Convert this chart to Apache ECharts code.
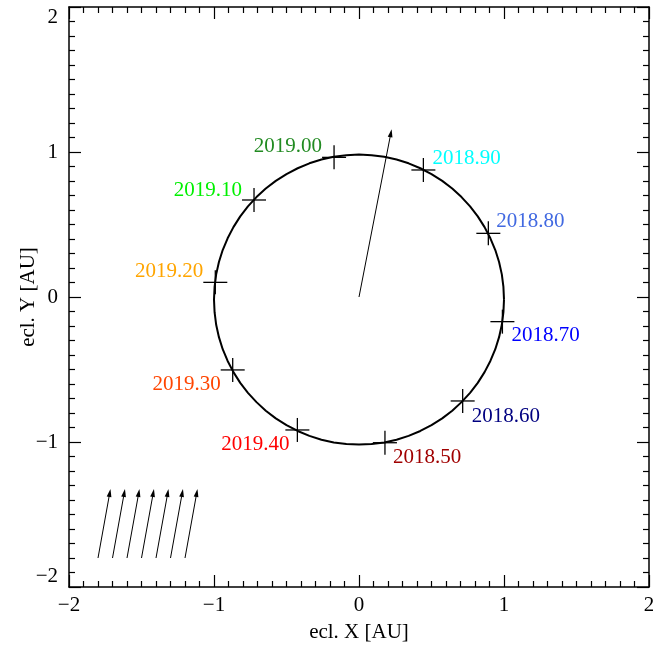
<!DOCTYPE html>
<html>
<head>
<meta charset="utf-8">
<script src="https://cdn.jsdelivr.net/npm/echarts@6/dist/echarts.min.js"></script>
<style>
html,body{margin:0;padding:0;background:#fff;}
#chart{width:653px;height:648px;}
</style>
</head>
<body>
<div id="chart"></div>
<script>
// ---- data ----
const axisTicks = [-2, -1, 0, 1, 2];
const xAxisTitle = 'ecl. X [AU]';
const yAxisTitle = 'ecl. Y [AU]';

const orbitX = [1.000, 0.996, 0.985, 0.966, 0.940, 0.906, 0.866, 0.819, 0.766, 0.707, 0.643, 0.574, 0.500, 0.423, 0.342, 0.259, 0.174, 0.087,
  0.000, -0.087, -0.174, -0.259, -0.342, -0.423, -0.500, -0.574, -0.643, -0.707, -0.766, -0.819, -0.866, -0.906, -0.940, -0.966, -0.985, -0.996,
  -1.000, -0.996, -0.985, -0.966, -0.940, -0.906, -0.866, -0.819, -0.766, -0.707, -0.643, -0.574, -0.500, -0.423, -0.342, -0.259, -0.174, -0.087,
  0.000, 0.087, 0.174, 0.259, 0.342, 0.423, 0.500, 0.574, 0.643, 0.707, 0.766, 0.819, 0.866, 0.906, 0.940, 0.966, 0.985, 0.996, 1.000];
const orbitY = [-0.018, 0.069, 0.156, 0.241, 0.324, 0.405, 0.482, 0.556, 0.625, 0.689, 0.748, 0.801, 0.848, 0.888, 0.922, 0.948, 0.967, 0.978,
  0.982, 0.978, 0.967, 0.948, 0.922, 0.888, 0.848, 0.801, 0.748, 0.689, 0.625, 0.556, 0.482, 0.405, 0.324, 0.241, 0.156, 0.069,
  -0.018, -0.105, -0.192, -0.277, -0.360, -0.441, -0.518, -0.592, -0.661, -0.725, -0.784, -0.837, -0.884, -0.924, -0.958, -0.984, -1.003, -1.014,
  -1.018, -1.014, -1.003, -0.984, -0.958, -0.924, -0.884, -0.837, -0.784, -0.725, -0.661, -0.592, -0.518, -0.441, -0.360, -0.277, -0.192, -0.105, -0.018];

const dateLabels = ['2018.50', '2018.60', '2018.70', '2018.80', '2018.90',
  '2019.00', '2019.10', '2019.20', '2019.30', '2019.40'];
const markerX = [0.179, 0.715, 0.989, 0.892, 0.444, -0.172, -0.724, -0.991, -0.871, -0.425];
const markerY = [-1.005, -0.717, -0.170, 0.439, 0.876, 0.963, 0.669, 0.101, -0.503, -0.917];

// central vector
const centerArrowStart = [0, 0];
const centerArrowEnd = [0.225, 1.157];

// small vectors in lower left
const smallArrowX0 = [-1.80, -1.70, -1.60, -1.50, -1.40, -1.30, -1.20];
const smallArrowY0 = [-1.80, -1.80, -1.80, -1.80, -1.80, -1.80, -1.80];
const smallArrowX1 = [-1.714, -1.614, -1.514, -1.414, -1.314, -1.214, -1.114];
const smallArrowY1 = [-1.324, -1.324, -1.324, -1.324, -1.324, -1.324, -1.324];

// ---- styles ----
const labelColors = ['#A00000', '#000080', '#0000FF', '#4169E1', '#00FFFF',
  '#228B22', '#00F000', '#FFA500', '#FF4500', '#FF0000'];
// label offsets in pixels [dx, dy, align]
const labelOffsets = [[8, 15, 'left'], [9, 16, 'left'], [9, 14, 'left'], [8, -12, 'left'], [9, -11, 'left'],
  [-12, -11, 'right'], [-12, -10, 'right'], [-12, -11, 'right'], [-12, 15, 'right'], [-8, 15, 'right']];

const FONT = '"Liberation Serif", "Times New Roman", "DejaVu Serif", serif';
const FS = 21;

const chart = echarts.init(document.getElementById('chart'), null, {renderer: 'canvas'});

function fmt(v) {
  if (axisTicks.indexOf(v) < 0) return '';
  return v < 0 ? '\u2212' + Math.abs(v) : String(v);
}

function axisBase(showLabel, position) {
  return {
    type: 'value', min: -2, max: 2, interval: 1, position: position,
    axisLine: {show: true, onZero: false, lineStyle: {color: '#000', width: 1.5}},
    axisTick: {show: true, inside: true, length: 12, lineStyle: {color: '#000', width: 1.2}},
    minorTick: {show: true, splitNumber: 10, length: 6, lineStyle: {color: '#000', width: 1.2}},
    splitLine: {show: false},
    minorSplitLine: {show: false},
    axisLabel: {show: showLabel, formatter: fmt, color: '#000', fontFamily: FONT, fontSize: FS, hideOverlap: false}
  };
}

const xBottom = Object.assign(axisBase(true, 'bottom'), {
  name: xAxisTitle, nameLocation: 'middle', nameGap: 35, nameMoveOverlap: false,
  nameTextStyle: {color: '#000', fontFamily: FONT, fontSize: FS}
});
xBottom.axisLabel.margin = 8;
const xTop = axisBase(false, 'top');
const yLeft = Object.assign(axisBase(true, 'left'), {
  name: yAxisTitle, nameLocation: 'middle', nameGap: 30, nameRotate: 90, nameMoveOverlap: false,
  nameTextStyle: {color: '#000', fontFamily: FONT, fontSize: FS}
});
yLeft.axisLabel.margin = 11;
yLeft.axisLabel.verticalAlignMinLabel = 'bottom';
yLeft.axisLabel.verticalAlignMaxLabel = 'top';
const yRight = axisBase(false, 'right');

const orbitData = orbitX.map((x, i) => [x, orbitY[i]]);
const markerData = markerX.map((x, i) => [x, markerY[i], i]);
const arrowData = [[centerArrowStart[0], centerArrowStart[1], centerArrowEnd[0], centerArrowEnd[1]]]
  .concat(smallArrowX0.map((x, i) => [x, smallArrowY0[i], smallArrowX1[i], smallArrowY1[i]]));

function renderArrow(params, api) {
  const p0 = api.coord([api.value(0), api.value(1)]);
  const p1 = api.coord([api.value(2), api.value(3)]);
  const dx = p1[0] - p0[0], dy = p1[1] - p0[1];
  const len = Math.sqrt(dx * dx + dy * dy);
  const ux = dx / len, uy = dy / len;
  const nx = -uy, ny = ux;
  const hl = 8, hw = 2.4;
  const bx = p1[0] - ux * hl, by = p1[1] - uy * hl;
  return {
    type: 'group',
    children: [
      {type: 'line', shape: {x1: p0[0], y1: p0[1], x2: bx + ux * 2, y2: by + uy * 2},
        style: {stroke: '#000', lineWidth: 1}},
      {type: 'polygon', shape: {points: [[p1[0], p1[1]], [bx + nx * hw, by + ny * hw], [bx - nx * hw, by - ny * hw]]},
        style: {fill: '#000'}}
    ]
  };
}

function renderMarker(params, api) {
  const i = api.value(2);
  const p = api.coord([api.value(0), api.value(1)]);
  const s = 12;
  const off = labelOffsets[i];
  return {
    type: 'group',
    children: [
      {type: 'line', shape: {x1: p[0] - s, y1: p[1], x2: p[0] + s, y2: p[1]}, style: {stroke: '#000', lineWidth: 1.3}},
      {type: 'line', shape: {x1: p[0], y1: p[1] - s, x2: p[0], y2: p[1] + s}, style: {stroke: '#000', lineWidth: 1.3}},
      {type: 'text', x: p[0] + off[0], y: p[1] + off[1],
        style: {text: dateLabels[i], fill: labelColors[i], font: FS + 'px ' + FONT,
          align: off[2], textAlign: off[2], verticalAlign: 'middle', textVerticalAlign: 'middle'}}
    ]
  };
}

chart.setOption({
  animation: false,
  backgroundColor: '#fff',
  grid: {left: 69, right: 4, top: 7, bottom: 61, containLabel: false, outerBoundsMode: 'none'},
  xAxis: [xBottom, xTop],
  yAxis: [yLeft, yRight],
  series: [
    {
      type: 'line', data: orbitData, smooth: false, showSymbol: false, symbol: 'none',
      xAxisIndex: 0, yAxisIndex: 0,
      lineStyle: {color: '#000', width: 2}, z: 2
    },
    {
      type: 'custom', renderItem: renderArrow, data: arrowData,
      xAxisIndex: 0, yAxisIndex: 0, z: 3, clip: false
    },
    {
      type: 'custom', renderItem: renderMarker, data: markerData,
      xAxisIndex: 0, yAxisIndex: 0, z: 4, clip: false
    }
  ]
});
</script>
</body>
</html>
